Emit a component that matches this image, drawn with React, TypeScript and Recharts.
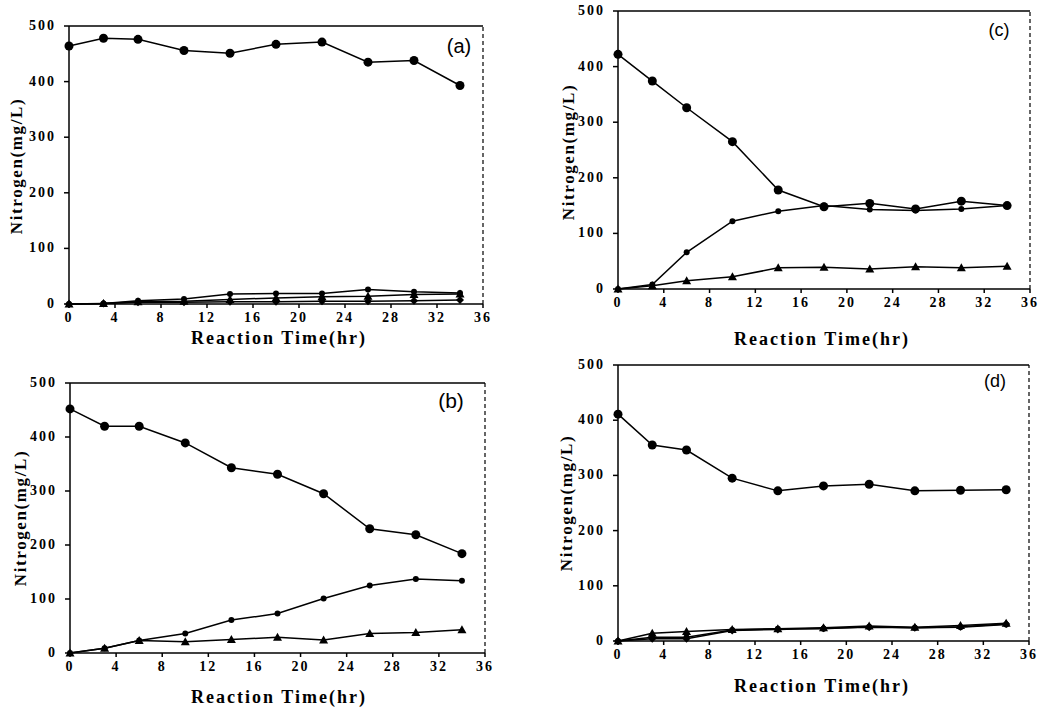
import React from 'react';
import { LineChart, Line, XAxis, YAxis, ReferenceLine, Label } from 'recharts';

const hours = [0, 3, 6, 10, 14, 18, 22, 26, 30, 34];
const xTicks = [0, 4, 8, 12, 16, 20, 24, 28, 32, 36];
const yTicks = [0, 100, 200, 300, 400, 500];

// panel (a)
const aMain = [464, 478, 476, 456, 451, 467, 471, 435, 438, 393];
const aSecond = [0, 1, 6, 9, 18, 19, 19, 26, 22, 20];
const aThird = [0, 1, 4, 5, 8, 11, 13, 14, 17, 18];
const aFourth = [0, 1, 3, 3, 4, 4, 5, 5, 6, 7];

// panel (b)
const bMain = [452, 420, 420, 389, 343, 331, 295, 230, 219, 184];
const bSecond = [0, 9, 23, 36, 61, 73, 101, 125, 137, 134];
const bThird = [0, 9, 23, 21, 25, 29, 24, 36, 38, 43];

// panel (c)
const cMain = [422, 374, 326, 265, 178, 148, 154, 144, 158, 150];
const cSecond = [0, 8, 66, 122, 140, 150, 143, 141, 144, 150];
const cThird = [0, 6, 15, 22, 38, 39, 36, 40, 38, 41];

// panel (d)
const dMain = [411, 355, 346, 295, 272, 281, 284, 272, 273, 274];
const dSecond = [0, 14, 17, 21, 22, 24, 27, 25, 28, 32];
const dThird = [0, 7, 7, 20, 22, 22, 26, 24, 25, 30];
const dFourth = [0, 4, 4, 19, 21, 23, 25, 24, 26, 31];

const boldSerif = { fontFamily: 'Liberation Serif', fontWeight: 700 };

const bigCircle = (p: any) => <circle key={`b${p.index}`} cx={p.cx} cy={p.cy} r={4.5} fill="#000" />;
const smallCircle = (p: any) => <circle key={`s${p.index}`} cx={p.cx} cy={p.cy} r={3} fill="#000" />;
const triangle = (p: any) => (
  <path key={`t${p.index}`} d={`M${p.cx},${p.cy - 4.5} L${p.cx + 4.5},${p.cy + 3.5} L${p.cx - 4.5},${p.cy + 3.5} Z`} fill="#000" />
);
const diamond = (p: any) => (
  <path key={`d${p.index}`} d={`M${p.cx},${p.cy - 4} L${p.cx + 4},${p.cy} L${p.cx},${p.cy + 4} L${p.cx - 4},${p.cy} Z`} fill="#000" />
);

const xTick = (p: any) => (
  <text x={p.x} y={p.y + 10} textAnchor="middle" style={{ ...boldSerif, fontSize: 14, letterSpacing: 2 }} fill="#000">
    {p.payload.value}
  </text>
);
const yTick = (p: any) => (
  <text x={p.x - 2} y={p.y + 4} textAnchor="end" style={{ ...boldSerif, fontSize: 14, letterSpacing: 2 }} fill="#000">
    {p.payload.value}
  </text>
);

type Series = { key: string; values: number[]; dot: any };

type PanelProps = {
  left: number;
  top: number;
  width: number;
  height: number;
  margin: { top: number; right: number; bottom: number; left: number };
  series: Series[];
  letter: string;
  letterPos: [number, number, number];
  yLabelPos: [number, number];
  xLabelPos: [number, number];
};

function Panel({ left, top, width, height, margin, series, letter, letterPos, yLabelPos, xLabelPos }: PanelProps) {
  const data = hours.map((h, i) => {
    const row: any = { h };
    series.forEach((s) => (row[s.key] = s.values[i]));
    return row;
  });
  return (
    <div style={{ position: 'absolute', left, top, width, height }}>
      <LineChart width={width} height={height} data={data} margin={margin}>
        <XAxis
          dataKey="h"
          type="number"
          domain={[0, 36]}
          ticks={xTicks}
          height={45}
          stroke="#000"
          strokeWidth={1.5}
          tickSize={4}
          tickMargin={4}
          tick={xTick}
        >
          <Label
            content={() => (
              <text x={xLabelPos[0]} y={xLabelPos[1]} textAnchor="middle" dominantBaseline="central"
                style={{ ...boldSerif, fontSize: 18, letterSpacing: 2 }} fill="#000">
                Reaction Time(hr)
              </text>
            )}
          />
        </XAxis>
        <YAxis
          type="number"
          domain={[0, 500]}
          ticks={yTicks}
          width={60}
          stroke="#000"
          strokeWidth={1.5}
          tickSize={5}
          tickMargin={6}
          tick={yTick}
        >
          <Label
            content={() => (
              <text transform={`translate(${yLabelPos[0]},${yLabelPos[1]}) rotate(-90)`} textAnchor="middle"
                dominantBaseline="central" style={{ ...boldSerif, fontSize: 17, letterSpacing: 1.6 }} fill="#000">
                Nitrogen(mg/L)
              </text>
            )}
          />
        </YAxis>
        <ReferenceLine y={500} stroke="#000" strokeWidth={1.5} ifOverflow="visible">
          <Label
            content={() => (
              <text x={letterPos[0]} y={letterPos[1]} textAnchor="middle" dominantBaseline="central"
                style={{ fontFamily: 'Liberation Sans', fontSize: letterPos[2] }} fill="#000">
                {letter}
              </text>
            )}
          />
        </ReferenceLine>
        <ReferenceLine x={36} stroke="#000" strokeWidth={1.2} strokeDasharray="4 3" ifOverflow="visible" />
        {series.map((s) => (
          <Line
            key={s.key}
            dataKey={s.key}
            type="linear"
            stroke="#000"
            strokeWidth={1.5}
            dot={s.dot}
            activeDot={false}
            isAnimationActive={false}
          />
        ))}
      </LineChart>
    </div>
  );
}

export default function App() {
  return (
    <div style={{ position: 'absolute', left: 0, top: 0, width: 1048, height: 710, background: '#fff' }}>
      <Panel
        left={0}
        top={0}
        width={520}
        height={355}
        margin={{ top: 26, right: 37, bottom: 6, left: 9 }}
        series={[
          { key: 'fourth', values: aFourth, dot: diamond },
          { key: 'third', values: aThird, dot: triangle },
          { key: 'second', values: aSecond, dot: smallCircle },
          { key: 'main', values: aMain, dot: bigCircle },
        ]}
        letter="(a)"
        letterPos={[459, 46, 20]}
        yLabelPos={[16, 166]}
        xLabelPos={[279, 338]}
      />
      <Panel
        left={520}
        top={0}
        width={528}
        height={355}
        margin={{ top: 11, right: 18, bottom: 21, left: 38 }}
        series={[
          { key: 'third', values: cThird, dot: triangle },
          { key: 'second', values: cSecond, dot: smallCircle },
          { key: 'main', values: cMain, dot: bigCircle },
        ]}
        letter="(c)"
        letterPos={[479, 30, 18]}
        yLabelPos={[48, 152]}
        xLabelPos={[302, 339]}
      />
      <Panel
        left={0}
        top={355}
        width={520}
        height={355}
        margin={{ top: 28, right: 35, bottom: 12, left: 10 }}
        series={[
          { key: 'third', values: bThird, dot: triangle },
          { key: 'second', values: bSecond, dot: smallCircle },
          { key: 'main', values: bMain, dot: bigCircle },
        ]}
        letter="(b)"
        letterPos={[451, 45, 21]}
        yLabelPos={[20, 163]}
        xLabelPos={[279, 342]}
      />
      <Panel
        left={520}
        top={355}
        width={528}
        height={355}
        margin={{ top: 10, right: 19, bottom: 24, left: 38 }}
        series={[
          { key: 'fourth', values: dFourth, dot: diamond },
          { key: 'third', values: dThird, dot: smallCircle },
          { key: 'second', values: dSecond, dot: triangle },
          { key: 'main', values: dMain, dot: bigCircle },
        ]}
        letter="(d)"
        letterPos={[475, 26, 18]}
        yLabelPos={[46, 148]}
        xLabelPos={[302, 331]}
      />
    </div>
  );
}
